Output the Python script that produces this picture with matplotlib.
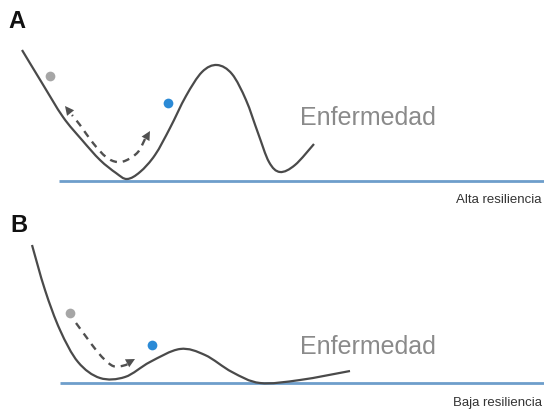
import matplotlib

matplotlib.use("Agg")
import matplotlib.pyplot as plt  # noqa: E402
import numpy as np  # noqa: E402
from matplotlib.path import Path  # noqa: E402
from matplotlib.patches import PathPatch, Polygon  # noqa: E402

# Everything in pixel units (x right, y down).
# Panel A: high resilience -- deep well, tall barrier.
curve_a_x = [22, 42, 63, 82, 100, 116, 127, 140, 155, 170, 186, 202, 217,
             232, 246, 258, 269, 280, 295, 314]
curve_a_y = [50, 83, 117, 140, 160, 173, 179, 172, 155, 128, 96, 72, 65,
             74, 100, 133, 162, 172, 165, 144]
path_a_x = [150, 145, 138, 127, 117, 106, 93, 80, 72, 65]
path_a_y = [131, 139, 152, 160, 162, 157, 143, 125, 115, 106]
dot_a = {"gray": (50, 76), "blue": (168, 103)}
base_a = (59, 181)

# Panel B: low resilience -- shallow well, low barrier.
curve_b_x = [32, 45, 60, 78, 100, 125, 150, 180, 205, 232, 260, 300, 350]
curve_b_y = [245, 290, 330, 362, 378, 377, 362, 349, 355, 372, 383, 380, 371]
path_b_x = [76, 87, 96, 104, 113, 122, 128, 135]
path_b_y = [323, 338, 350, 359, 366, 366, 364, 359]
dot_b = {"gray": (70, 313), "blue": (152, 345)}
base_b = (60, 383)

labels = ["A", "B"]
label_pos = [(8, 28), (10, 232)]
state_text = "Enfermedad"
state_pos = [(300, 118), (300, 347)]
resil_text = ["Alta resiliencia", "Baja resiliencia"]
resil_y = [200, 403]

W, H = 544, 417
CURVE = "#4a4a4a"
BLUE = "#6e9ecb"
DASH = "#505050"


def smooth_path(xs, ys):
    """Catmull-Rom through the read points, handed to matplotlib as Beziers."""
    p = np.column_stack([xs, ys]).astype(float)
    verts, codes = [p[0]], [Path.MOVETO]
    for i in range(len(p) - 1):
        p0 = p[i - 1] if i > 0 else p[i]
        p3 = p[i + 2] if i + 2 < len(p) else p[i + 1]
        c1 = p[i] + (p[i + 1] - p0) / 6
        c2 = p[i + 1] - (p3 - p[i]) / 6
        verts += [c1, c2, p[i + 1]]
        codes += [Path.CURVE4] * 3
    return Path(verts, codes)


def head(ax, tail, tip, length=9.0, half=4.5):
    # 1 data unit == 1 pixel on both axes, so the triangle is built directly
    tip = np.asarray(tip, float)
    u = tip - np.asarray(tail, float)
    u /= np.hypot(*u)
    n = np.array([-u[1], u[0]])
    back = tip - length * u
    ax.add_patch(Polygon([tip, back + half * n, back - half * n],
                         closed=True, fc=DASH, ec="none", zorder=3))


plt.rcParams["font.family"] = ["Liberation Sans", "DejaVu Sans"]
fig = plt.figure(figsize=(W / 100, H / 100), dpi=100)
ax = fig.add_axes([0, 0, 1, 1])
ax.set_xlim(0, W)
ax.set_ylim(H, 0)
ax.set_axis_off()

panels = [
    (curve_a_x, curve_a_y, path_a_x, path_a_y, dot_a, base_a, True),
    (curve_b_x, curve_b_y, path_b_x, path_b_y, dot_b, base_b, False),
]
for k, (cx, cy, px, py, dots, base, both) in enumerate(panels):
    ax.plot([base[0], W], [base[1], base[1]], color=BLUE, lw=2.0,
            solid_capstyle="butt", zorder=1)
    ax.add_patch(PathPatch(smooth_path(cx, cy), fill=False, ec=CURVE,
                           lw=1.6, zorder=2))
    lo = 1 if both else 0
    ax.add_patch(PathPatch(smooth_path(px[lo:-1], py[lo:-1]), fill=False,
                           ec=DASH, lw=1.7, ls=(0, (3, 2.5)), zorder=2))
    head(ax, (px[-3], py[-3]), (px[-1], py[-1]))
    if both:
        head(ax, (px[2], py[2]), (px[0], py[0]))
    ax.plot(*dots["gray"], "o", color="#a6a6a6", ms=7, mec="none", zorder=3)
    ax.plot(*dots["blue"], "o", color="#2b8ad6", ms=7, mec="none", zorder=3)

    ax.text(*label_pos[k], labels[k], fontsize=17, fontweight="bold",
            color="#111111", ha="left", va="baseline")
    ax.text(*state_pos[k], state_text, fontsize=18, color="#8a8a8a",
            ha="left", va="center")
    ax.text(W - 2, resil_y[k], resil_text[k], fontsize=9.5, color="#333333",
            ha="right", va="center")

fig.savefig("out.png", dpi=100)
